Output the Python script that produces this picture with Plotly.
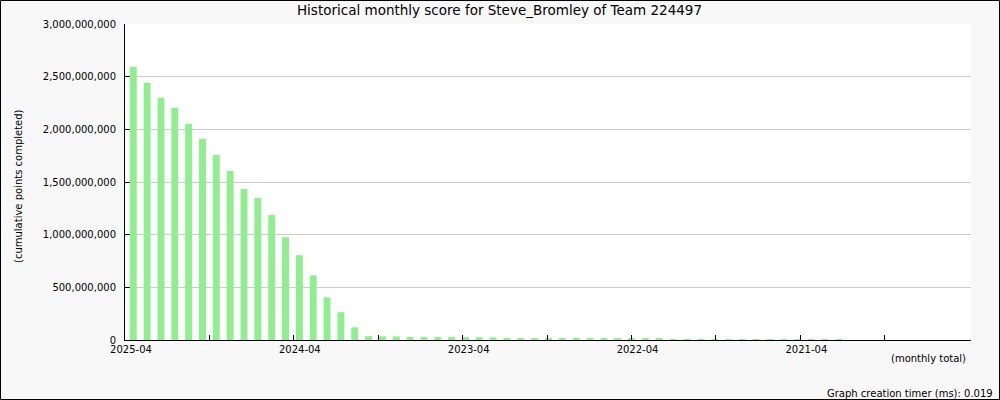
import plotly.graph_objects as go

# ---- data ----
scores = [
    2595e6, 2443e6, 2300e6, 2205e6, 2052e6, 1910e6, 1757e6, 1605e6, 1433e6, 1348e6,
    1186e6, 976e6, 805e6, 614e6, 405e6, 264e6, 120e6, 36e6, 35e6, 34e6,
    29e6, 28e6, 27.5e6, 27e6, 26.5e6, 26e6, 25e6, 20e6, 19.5e6, 19e6,
    18.5e6, 18e6, 17.5e6, 17e6, 16.5e6, 16e6, 11e6, 10.5e6, 10e6, 9.5e6,
    9e6, 8.5e6, 8e6, 7.5e6, 7e6, 6.5e6, 6e6, 5.5e6, 5e6, 4.5e6,
    4e6, 3.5e6,
]
sample_index = list(range(len(scores)))
x_tick_labels = ["2025-04", "", "2024-04", "", "2023-04", "", "2022-04", "", "2021-04", ""]
y_tick_values = [0, 500e6, 1000e6, 1500e6, 2000e6, 2500e6, 3000e6]

title_text = "Historical monthly score for Steve_Bromley of Team 224497"
y_title = "(cumulative points completed)"
x_note = "(monthly total)"
timer_note = "Graph creation timer (ms): 0.019"

# ---- layout constants ----
W, H = 1000, 400
ML, MR, MT, MB = 125, 29, 24, 60
PW, PH = W - ML - MR, H - MT - MB
FONT = "DejaVu Sans"

x_start, x_end = -0.6, 60.53
tick_step = 6.1
x_tick_positions = [x_start + tick_step * k for k in range(len(x_tick_labels))]


def px_x(px):
    return (px - ML) / PW


def px_y(py):
    return (H - MB - py) / PH


fig = go.Figure()
fig.add_trace(go.Bar(
    x=sample_index,
    y=scores,
    width=0.5,
    marker=dict(color="#90ee90", line=dict(width=0)),
    hoverinfo="skip",
))

fig.update_layout(
    width=W, height=H,
    margin=dict(l=ML, r=MR, t=MT, b=MB, autoexpand=False),
    paper_bgcolor="#f8f8f8",
    plot_bgcolor="#ffffff",
    showlegend=False,
    font=dict(family=FONT, size=10, color="#000000"),
    title=dict(
        text=title_text,
        x=499.5 / W, xref="container", xanchor="center",
        y=1 - 10 / H, yref="container", yanchor="middle",
        font=dict(family=FONT, size=13.5, color="#000000"),
    ),
    xaxis=dict(
        range=[x_start, x_end],
        tickmode="array",
        tickvals=x_tick_positions,
        ticktext=x_tick_labels,
        ticks="inside", ticklen=5, tickwidth=1, tickcolor="#000000",
        showline=True, linecolor="#000000", linewidth=1,
        showgrid=False, zeroline=False,
        ticklabelshift=6,
        tickfont=dict(family=FONT, size=10, color="#000000"),
        fixedrange=True,
    ),
    yaxis=dict(
        range=[0, 3e9],
        tickmode="array",
        tickvals=y_tick_values,
        tickformat=",d",
        ticks="inside", ticklen=5, tickwidth=1, tickcolor="#000000",
        showline=True, linecolor="#000000", linewidth=1,
        showgrid=True, gridcolor="#cccccc", gridwidth=1,
        zeroline=False,
        ticklabelstandoff=6,
        tickfont=dict(family=FONT, size=10, color="#000000"),
        fixedrange=True,
    ),
    annotations=[
        dict(text=y_title, textangle=-90, xref="paper", yref="paper",
             x=px_x(18), y=px_y(186), xanchor="center", yanchor="middle",
             showarrow=False, font=dict(family=FONT, size=10, color="#000000")),
        dict(text=x_note, xref="paper", yref="paper",
             x=px_x(968), y=px_y(358), xanchor="right", yanchor="middle",
             showarrow=False, font=dict(family=FONT, size=10, color="#000000")),
        dict(text=timer_note, xref="paper", yref="paper",
             x=px_x(995), y=px_y(393), xanchor="right", yanchor="middle",
             showarrow=False, font=dict(family=FONT, size=10, color="#000000")),
    ],
    shapes=[
        dict(type="rect", xref="paper", yref="paper", layer="above",
             x0=px_x(0.5), x1=px_x(999.5), y0=px_y(0.5), y1=px_y(399.5),
             line=dict(color="#000000", width=1), fillcolor="rgba(0,0,0,0)"),
    ],
)

fig.write_html(
    "out.html",
    config={"displayModeBar": False},
    post_script="document.body.style.margin='0';document.body.style.overflow='hidden';",
)
